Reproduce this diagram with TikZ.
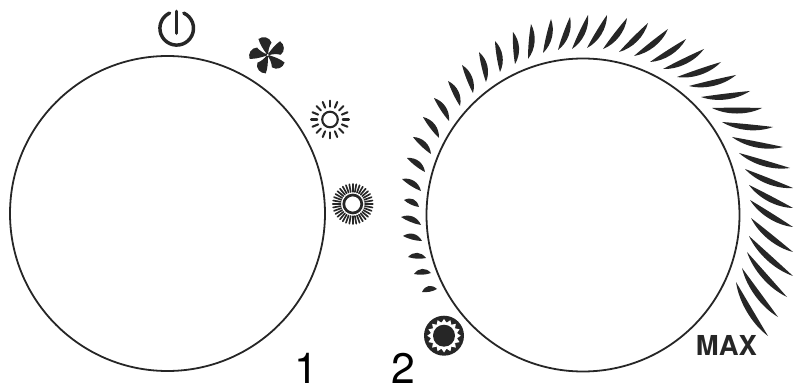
\documentclass[tikz,border=0pt]{standalone}
\usepackage{fontspec}
\setmainfont{TeX Gyre Heros}
\tikzset{
	dial/.style={draw=black!85, line width=1.35pt},
	blade/.style={fill=black!85},
	ray/.style={draw=black!85, line cap=round},
	caption/.style={inner sep=0pt, anchor=base, font=\fontsize{32}{32}\selectfont}
}
\begin{document}
\begin{tikzpicture}[x=0.75pt, y=-0.75pt, line join=round]
	\useasboundingbox (0,0) rectangle (794,385);
	
	% ==========================================
	% LEFT KNOB
	% ==========================================
	\draw[dial] (167.5,213.5) circle[radius=157.5];
	
	% 1. Power symbol
	\begin{scope}[shift={(176.7,28.3)}]
		\draw[draw=black!85, line width=2.6pt, line cap=round] (-65:16.8) arc[start angle=-65, end angle=245, radius=16.8];
		\draw[draw=black!85, line width=2.6pt, line cap=round] (0,-17) -- (0,5);
	\end{scope}
	
	% 2. Fan with five blades
	\begin{scope}[shift={(267.7,55)}]
		\foreach \a in {-98,-26,46,118,190} {
			\fill[blade] (\a-40:1.2) .. controls (\a-30:8) and (\a-28:13) .. (\a-22:18.5)
			.. controls (\a-6:20) and (\a+14:18) .. (\a+25:13)
			.. controls (\a+18:9) and (\a+12:4) .. (\a+40:1.2) -- cycle;
		}
	\end{scope}
	
	% 3. Small sun
	\begin{scope}[shift={(330,119.5)}]
		\draw[draw=black!85, line width=1.6pt] (0,0) circle[radius=7.8];
		\foreach \a in {0,22.5,...,337.5} {
			\draw[ray, line width=1.55pt] (\a:12.8) -- (\a:18.9);
		}
	\end{scope}
	
	% 4. Large sun
	\begin{scope}[shift={(352.8,204)}]
		\draw[draw=black!85, line width=2pt] (0,0) circle[radius=9];
		\foreach \a in {0,10,...,350} {
			\draw[ray, line width=1.25pt] (\a:12.2) -- (\a:20);
		}
	\end{scope}
	
	% ==========================================
	% RIGHT KNOB
	% ==========================================
	\draw[dial] (583,215) circle[radius=156.5];
	
	% Blades of the scale, inner end / outer end
	\foreach \ax/\ay/\bx/\by in {
		437/289/422/292, 431/273/414/274, 426/258/408/257, 422/241/403/236,
		421/225/401/217, 419/207/404/200, 421/191/402/179, 425/172/407/158,
		431/154/413/137, 439/138/423/117, 449/121/434/98, 460/106/448/81,
		473/93/462/65, 486/82/479/52, 500/72/495/41, 515/64/513/32,
		528/59/531/24, 543/53/551/19, 558/50/570/17, 572/49/588/15,
		587/48/607/15, 603/49/627/18, 619/52/648/23, 634/56/668/29,
		650/62/686/39, 663/69/704/49, 677/77/721/62, 689/86/736/75,
		701/97/750/91, 712/108/762/108, 722/122/773/127, 732/137/783/147,
		739/153/790/168, 745/169/793/188, 749/185/793/208, 750/200/793/227,
		751/218/793/252, 749/236/793/276, 747/252/787/297, 742/268/778/317,
		736/282/768/336} {
		\pgfmathsetmacro{\len}{veclen(\bx-\ax,\by-\ay)}
		\pgfmathsetmacro{\nx}{-(\by-\ay)/\len}
		\pgfmathsetmacro{\ny}{(\bx-\ax)/\len}
		\pgfmathsetmacro{\hi}{5.6+0.035*\len}
		\pgfmathsetmacro{\lo}{-2.2+0.035*\len}
		\fill[blade] (\ax,\ay)
		.. controls ({\ax+0.3*(\bx-\ax)+\hi*\nx},{\ay+0.3*(\by-\ay)+\hi*\ny}) and ({\ax+0.7*(\bx-\ax)+\hi*\nx},{\ay+0.7*(\by-\ay)+\hi*\ny}) .. (\bx,\by)
		.. controls ({\ax+0.7*(\bx-\ax)+\lo*\nx},{\ay+0.7*(\by-\ay)+\lo*\ny}) and ({\ax+0.3*(\bx-\ax)+\lo*\nx},{\ay+0.3*(\by-\ay)+\lo*\ny}) .. (\ax,\ay) -- cycle;
	}
	
	% Minimum mark of the scale
	\begin{scope}[shift={(444,335.7)}]
		\fill[black!85] (0,0) circle[radius=20];
		\fill[white] (0,0) circle[radius=13.5];
		\foreach \a in {0,22.5,...,337.5} {
			\fill[white] (\a-11.25:13.2) -- (\a:16.8) -- (\a+11.25:13.2) -- cycle;
		}
		\fill[black!85] (0,0) circle[radius=11];
	\end{scope}
	
	\node[inner sep=0pt, anchor=base, font=\bfseries\fontsize{20.6}{21}\selectfont, text=black!85] (maxlabel) at (726.5,355) {MAX};
	
	% ==========================================
	% NUMBERS
	% ==========================================
	\node[caption] (first) at (306,383) {1};
	\node[caption] (second) at (403.5,383) {2};
\end{tikzpicture}
\end{document}
